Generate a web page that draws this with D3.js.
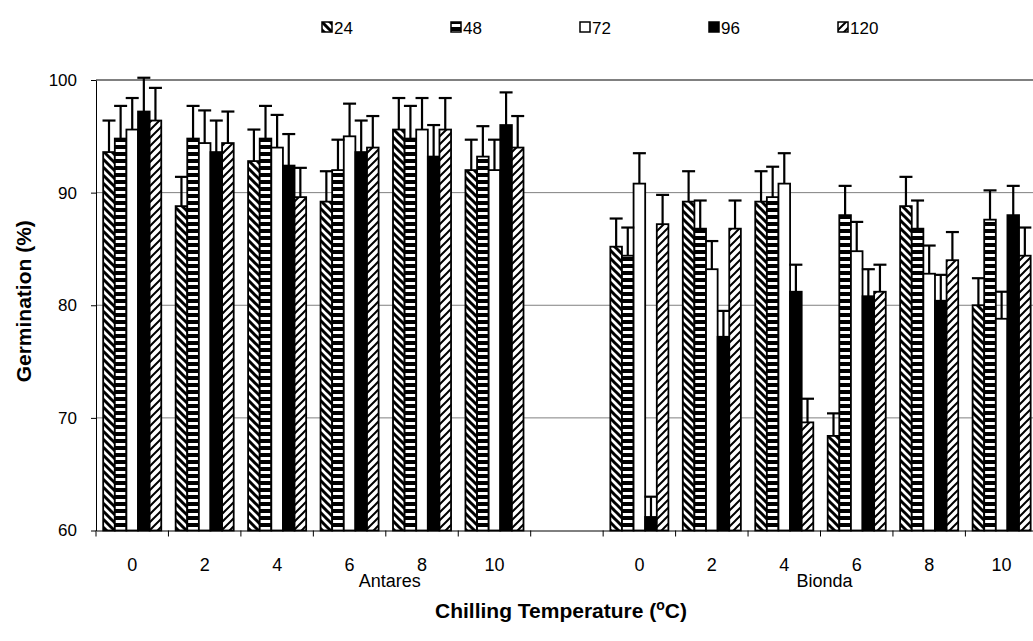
<!DOCTYPE html>
<html>
<head>
<meta charset="utf-8">
<script src="https://cdn.jsdelivr.net/npm/d3@7"></script>
<style>
  body { margin: 0; background: #fff; }
  svg { display: block; font-family: "Liberation Sans", Arial, sans-serif; }
</style>
</head>
<body>
<svg id="chart"></svg>
<script>
// chilling hours (legend) and chilling temperature categories
const series = ["24", "48", "72", "96", "120"];
const categories = ["A0", "A2", "A4", "A6", "A8", "A10", "gap", "B0", "B2", "B4", "B6", "B8", "B10"];
const tickLabels = ["0", "2", "4", "6", "8", "10", "", "0", "2", "4", "6", "8", "10"];
const groupNames = ["Antares", "Bionda"];
const groupAt = ["A8", "B6"];
const yTicks = [60, 70, 80, 90, 100];

// germination (%) per series, one value per category
const germ24 = [93.6, 88.8, 92.8, 89.2, 95.6, 92.0, null, 85.2, 89.2, 89.2, 68.4, 88.8, 80.0];
const germ48 = [94.8, 94.8, 94.8, 92.0, 94.8, 93.2, null, 84.4, 86.8, 89.6, 88.0, 86.8, 87.6];
const germ72 = [95.6, 94.4, 94.0, 95.0, 95.6, 92.0, null, 90.8, 83.2, 90.8, 84.8, 82.8, 78.8];
const germ96 = [97.2, 93.6, 92.4, 93.6, 93.2, 96.0, null, 61.2, 77.2, 81.2, 80.8, 80.4, 88.0];
const germ120 = [96.4, 94.4, 89.6, 94.0, 95.6, 94.0, null, 87.2, 86.8, 69.6, 81.2, 84.0, 84.4];

// upper error bars
const err24 = [2.8, 2.6, 2.8, 2.7, 2.8, 2.7, null, 2.5, 2.7, 2.7, 2.0, 2.6, 2.4];
const err48 = [2.9, 2.9, 2.9, 2.7, 2.9, 2.7, null, 2.5, 2.5, 2.7, 2.6, 2.5, 2.6];
const err72 = [2.8, 2.9, 2.9, 2.9, 2.8, 2.7, null, 2.7, 2.5, 2.7, 2.6, 2.5, 2.4];
const err96 = [3.0, 2.8, 2.8, 2.8, 2.8, 2.9, null, 1.8, 2.3, 2.4, 2.4, 2.3, 2.6];
const err120 = [2.9, 2.8, 2.6, 2.8, 2.8, 2.8, null, 2.6, 2.5, 2.1, 2.4, 2.5, 2.5];

const means = [germ24, germ48, germ72, germ96, germ120];
const errs = [err24, err48, err72, err96, err120];

const width = 1033;
const height = 641;
const plotLeft = 96;
const plotTop = 80;
const plotBottom = 530.5;
const step = 72.45;

const svg = d3.select("#chart").attr("width", width).attr("height", height);

// fill patterns
const defs = svg.append("defs");
const p24 = defs.append("pattern").attr("id", "p24")
  .attr("patternUnits", "userSpaceOnUse").attr("width", 8).attr("height", 8);
p24.append("rect").attr("width", 8).attr("height", 8).attr("fill", "#fff");
p24.append("path").attr("d", "M-2,-2L10,10M-2,6L2,10M6,-2L10,2")
  .attr("stroke", "#000").attr("stroke-width", 3);

const p48 = defs.append("pattern").attr("id", "p48")
  .attr("patternUnits", "userSpaceOnUse").attr("width", 8).attr("height", 7);
p48.append("rect").attr("width", 8).attr("height", 7).attr("fill", "#000");
p48.append("rect").attr("y", 2).attr("width", 8).attr("height", 3).attr("fill", "#fff");

const p120 = defs.append("pattern").attr("id", "p120")
  .attr("patternUnits", "userSpaceOnUse").attr("width", 8).attr("height", 8);
p120.append("rect").attr("width", 8).attr("height", 8).attr("fill", "#fff");
p120.append("path").attr("d", "M-2,10L10,-2M-2,2L2,-2M6,10L10,6")
  .attr("stroke", "#000").attr("stroke-width", 2);

const fills = ["url(#p24)", "url(#p48)", "#fff", "#000", "url(#p120)"];

// scales
const x = d3.scaleBand().domain(categories).range([plotLeft, plotLeft + categories.length * step]);
const xs = d3.scaleBand().domain(series).range([0, step]).paddingOuter(0.62);
const y = d3.scaleLinear().domain([60, 100]).range([plotBottom, plotTop]);

// gridlines
svg.append("g").selectAll("line")
  .data(yTicks.slice(1))
  .join("line")
  .attr("x1", plotLeft).attr("x2", plotLeft + categories.length * step)
  .attr("y1", d => y(d)).attr("y2", d => y(d))
  .attr("stroke", "#808080")
  .attr("stroke-width", d => d === 100 ? 2 : 1);

// bars
const rows = [];
categories.forEach((c, i) => {
  series.forEach((s, j) => {
    if (means[j][i] !== null) rows.push({ cat: c, s, j, v: means[j][i], e: errs[j][i] });
  });
});

svg.append("g").selectAll("rect")
  .data(rows)
  .join("rect")
  .attr("x", d => x(d.cat) + xs(d.s))
  .attr("y", d => y(d.v))
  .attr("width", xs.bandwidth())
  .attr("height", d => y(60) - y(d.v))
  .attr("fill", d => fills[d.j])
  .attr("stroke", "#000")
  .attr("stroke-width", 1.8);

// error bars
const eb = svg.append("g").attr("stroke", "#000").attr("stroke-width", 2.2);
rows.forEach(d => {
  const cx = x(d.cat) + xs(d.s) + xs.bandwidth() / 2;
  eb.append("line").attr("x1", cx).attr("x2", cx).attr("y1", y(d.v)).attr("y2", y(d.v + d.e));
  eb.append("line").attr("x1", cx - 6.5).attr("x2", cx + 6.5).attr("y1", y(d.v + d.e)).attr("y2", y(d.v + d.e));
});

// y axis
const yAxis = svg.append("g")
  .attr("transform", `translate(${plotLeft},0)`)
  .call(d3.axisLeft(y).tickValues(yTicks).tickSize(5).tickSizeOuter(0).tickPadding(14));
yAxis.selectAll("text").attr("font-size", 17).attr("font-family", "Liberation Sans").attr("fill", "#000");
yAxis.selectAll("line, path").attr("stroke", "#000");

// x axis with ticks on category boundaries
const xAxis = svg.append("g")
  .attr("transform", `translate(0,${plotBottom})`)
  .call(d3.axisBottom(x).tickSize(0).tickSizeOuter(0).tickPadding(28)
    .tickFormat((d, i) => tickLabels[i]));
xAxis.selectAll("text").attr("font-size", 18).attr("font-family", "Liberation Sans").attr("fill", "#000");
xAxis.select(".domain").attr("stroke", "#000");
xAxis.selectAll(".bound")
  .data(categories)
  .join("line")
  .attr("class", "bound")
  .attr("x1", d => x(d)).attr("x2", d => x(d))
  .attr("y1", 0).attr("y2", 6)
  .attr("stroke", "#000");

// group labels
svg.append("g").selectAll("text")
  .data(groupNames)
  .join("text")
  .attr("x", (d, i) => x(groupAt[i]) + 4)
  .attr("y", 587)
  .attr("text-anchor", "middle")
  .attr("font-size", 18)
  .text(d => d);

// axis titles
svg.append("text")
  .attr("transform", `translate(31,${(plotTop + plotBottom) / 2 - 4}) rotate(-90)`)
  .attr("text-anchor", "middle")
  .attr("font-size", 21)
  .attr("font-weight", "bold")
  .text("Germination (%)");

const xt = svg.append("text")
  .attr("x", 561).attr("y", 618)
  .attr("text-anchor", "middle")
  .attr("font-size", 21)
  .attr("font-weight", "bold");
xt.append("tspan").text("Chilling Temperature (");
xt.append("tspan").attr("dy", -8).attr("font-size", 14).text("o");
xt.append("tspan").attr("dy", 8).text("C)");

// legend
const lg = svg.append("g").selectAll("g")
  .data(series)
  .join("g")
  .attr("transform", (d, i) => `translate(${322 + i * 129},22)`);
lg.append("rect")
  .attr("width", 10).attr("height", 10)
  .attr("fill", (d, i) => fills[i])
  .attr("stroke", "#000").attr("stroke-width", 1.5);
lg.append("text")
  .attr("x", 12).attr("y", 11.5)
  .attr("font-size", 17)
  .text(d => d);
</script>
</body>
</html>
